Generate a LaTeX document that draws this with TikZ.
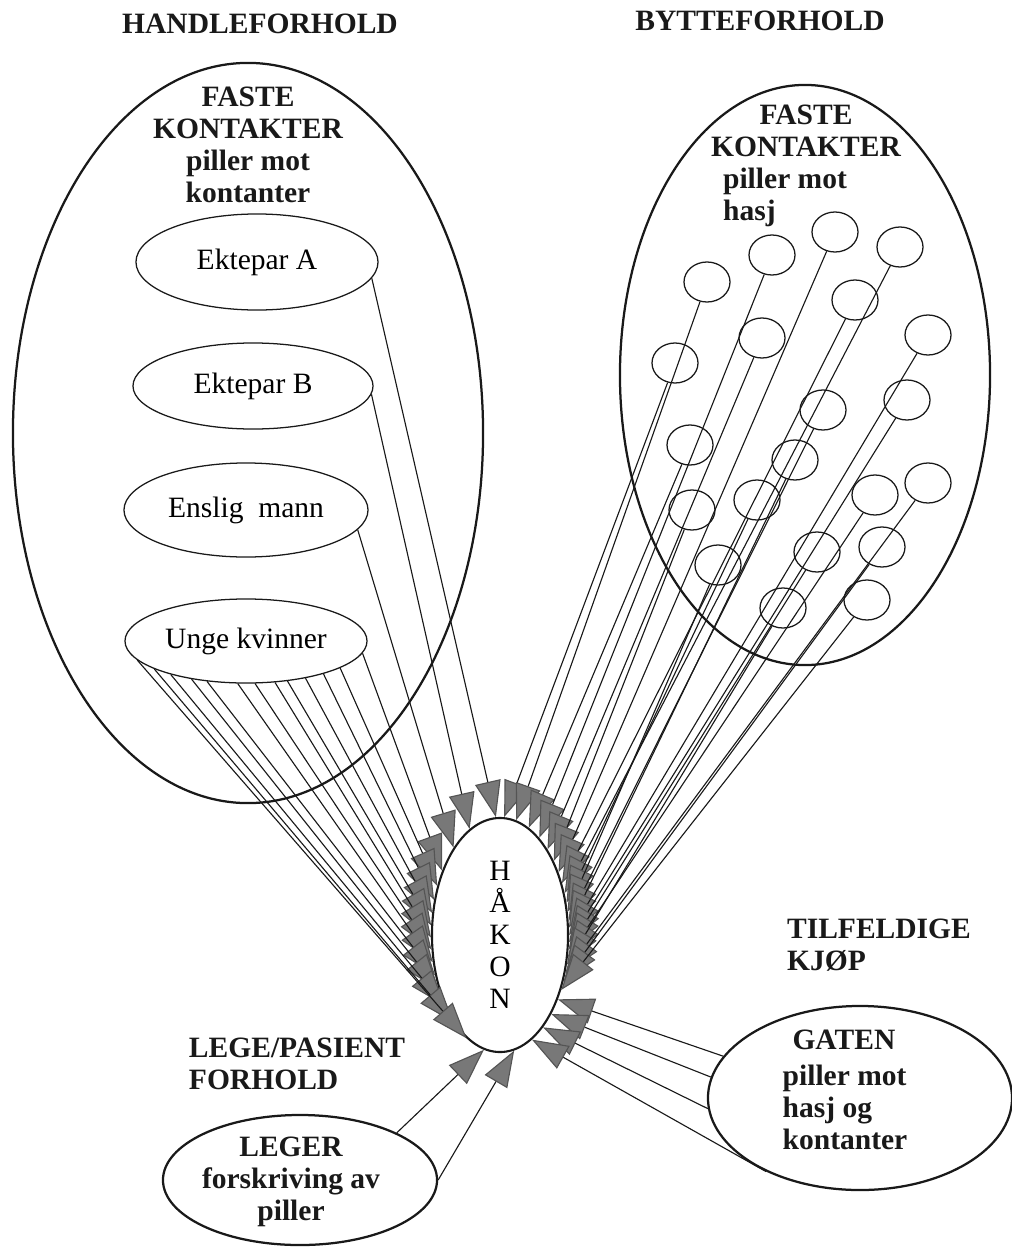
\documentclass[tikz,border=0pt]{standalone}
\usepackage{fontspec}
\setmainfont{Liberation Serif}
\usetikzlibrary{arrows.meta,shapes.geometric}
\definecolor{hatch}{RGB}{120,120,120}
\definecolor{ink}{RGB}{25,25,25}
\newcommand{\figfont}{\fontsize{21}{22.7}\selectfont}
\tikzset{
  >={Triangle[length=9mm,width=6.5mm,fill=hatch,color=hatch!70!black]},
  sphere/.style 2 args={ellipse,draw=ink,line width=1.6pt,inner sep=0pt,
    minimum width=#1,minimum height=#2},
  member/.style 2 args={ellipse,draw=ink,line width=0.9pt,inner sep=0pt,
    minimum width=#1,minimum height=#2,font=\figfont},
  contact/.style={ellipse,draw=ink,line width=0.9pt,inner sep=0pt,
    minimum width=1.15cm,minimum height=1cm},
  hub/.style={ellipse,draw=ink,line width=1.5pt,inner sep=0pt,
    minimum width=3.4cm,minimum height=5.85cm,align=center,font=\figfont},
  head/.style={font=\figfont\bfseries,text=ink},
  tag/.style={font=\figfont\bfseries,text=ink,align=left},
  flow/.style={->,line width=0.8pt,draw=ink},
}

\begin{document}
\begin{tikzpicture}[x=0.025cm,y=-0.025cm]
  \useasboundingbox (0,0) rectangle (1012,1249);
  % headings
  \node[head] (handle) at (260,24) {HANDLEFORHOLD};
  \node[head] (bytte) at (760,21) {BYTTEFORHOLD};
  % centre
  \node[hub] (hakon) at (500,935) {H\\Å\\K\\O\\N};
  % faste kontakter, piller mot kontanter
  \node[sphere={11.75cm}{18.5cm}] (trade) at (248,433) {};
  \node[head,align=center] (tradelbl) at (248,145) {FASTE\\KONTAKTER\\piller mot\\kontanter};
  \node[member={6.05cm}{2.4cm}] (ekA) at (257,262) {Ektepar A};
  \node[member={6.0cm}{2.15cm}] (ekB) at (253,386) {Ektepar B};
  \node[member={6.1cm}{2.35cm}] (enslig) at (246,510) {Enslig\ \ mann};
  \node[member={6.05cm}{2.1cm}] (unge) at (246,641) {Unge kvinner};
  \draw[flow] (ekA.-8) -- (hakon.92);
  \draw[flow] (ekB.-4) -- (hakon.106);
  \draw[flow] (enslig.-10) -- (hakon.118);
  \foreach \s/\e in {354/132,344/142,337/152,328/162,316/172,305/182,282/192,
                     259/202,226/212,215/222,204/232,197/242,190/252}
    \draw[flow] (unge.\s) -- (hakon.\e);
  % faste kontakter, piller mot hasj
  \node[sphere={9.25cm}{14.5cm}] (barter) at (805,375) {};
  \node[head,align=center] (barterlbl) at (806,131) {FASTE\\KONTAKTER};
  \node[tag] (barterterms) at (785,197) {piller mot\\hasj};
  \foreach \cx/\cy/\e [count=\i] in {675/363/88,707/282/82,690/445/75,772/255/68,
      762/338/61,692/510/54,835/232/47,855/300/40,900/247/33,757/500/26,718/565/19,
      823/410/12,795/460/6,928/335/0,907/400/-6,817/552/-12,875/495/-18,783/608/-24,
      928/483/-30,882/547/-36,867/600/-42}
  {
    \node[contact] (c\i) at (\cx,\cy) {};
    \draw[flow] (c\i) -- (hakon.\e);
  }
  % tilfeldige kjop
  \node[tag] (chance) at (879,945) {TILFELDIGE\\KJØP};
  \node[sphere={7.6cm}{4.6cm}] (gaten) at (860,1098) {};
  \node[tag] (gatenlbl) at (845,1090) {\hspace{7pt}GATEN\\[3pt]piller mot\\hasj og\\kontanter};
  \draw[flow] (gaten.163) -- (hakon.-48);
  \draw[flow] (gaten.172) -- (hakon.-57);
  \draw[flow] (gaten.184) -- (hakon.-65);
  \draw[flow] (gaten.218) -- (hakon.-73);
  % lege/pasient
  \node[tag] (doctor) at (297,1064) {LEGE/PASIENT\\FORHOLD};
  \node[sphere={6.85cm}{3.25cm}] (leger) at (300,1180) {};
  \node[head,align=center] (legerlbl) at (291,1182) {LEGER\\forskriving av\\piller};
  \draw[flow] (leger.26) -- (hakon.262);
  \draw[flow] (leger.0) -- (hakon.277);
\end{tikzpicture}
\end{document}
